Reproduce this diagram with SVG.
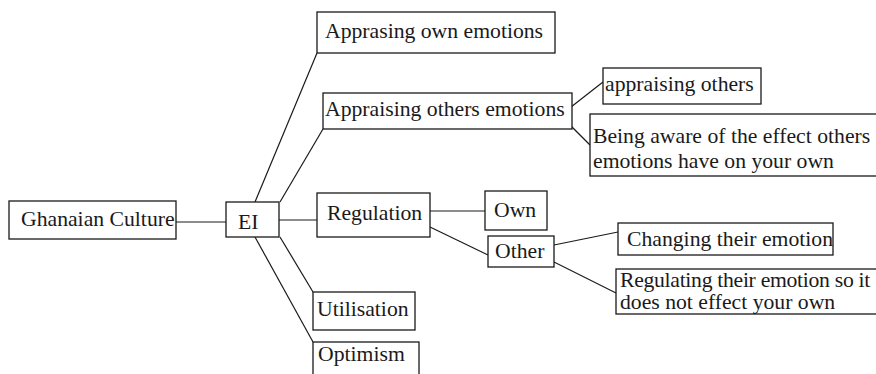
<svg xmlns="http://www.w3.org/2000/svg" width="876" height="374" viewBox="0 0 876 374">
<style>
rect.box{fill:#fff;stroke:#1a1a1a;stroke-width:1.3}
text{font-family:'Liberation Serif','DejaVu Serif',serif;font-size:21.7px;fill:#1a1a1a}
#connectors line{stroke:#1a1a1a;stroke-width:1.2}
</style>
<rect width="876" height="374" fill="#fff"/>
<g id="connectors">
<line x1="176" y1="222" x2="226" y2="222"/>
<line x1="279" y1="220" x2="317" y2="220"/>
<line x1="255" y1="202" x2="317" y2="53"/>
<line x1="280" y1="202" x2="323" y2="129"/>
<line x1="255" y1="237" x2="313" y2="342"/>
<line x1="280" y1="237" x2="313" y2="292"/>
<line x1="430" y1="211" x2="485" y2="211"/>
<line x1="430" y1="227" x2="488" y2="255"/>
<line x1="571" y1="107" x2="603" y2="82"/>
<line x1="571" y1="126" x2="590" y2="145"/>
<line x1="554" y1="245" x2="618" y2="232"/>
<line x1="554" y1="262" x2="616" y2="293"/>
</g>
<g id="ghanaian"><rect class="box" x="9" y="201" width="167" height="38"/><text x="21" y="226">Ghanaian Culture</text></g>
<g id="ei"><rect class="box" x="226" y="202" width="53" height="35"/><text x="238" y="229">EI</text></g>
<g id="own-emotions"><rect class="box" x="317" y="12" width="238" height="41"/><text x="325" y="38">Apprasing own emotions</text></g>
<g id="others-emotions"><rect class="box" x="323" y="93" width="249" height="36"/><text x="325" y="116">Appraising others emotions</text></g>
<g id="appraising-others"><rect class="box" x="603" y="68" width="158" height="36"/><text x="605" y="91">appraising others</text></g>
<g id="being-aware"><rect class="box" x="590" y="114" width="300" height="62"/><text x="593" y="143">Being aware of the effect others</text><text x="593" y="168">emotions have on your own</text></g>
<g id="regulation"><rect class="box" x="317" y="193" width="113" height="44"/><text x="327" y="220">Regulation</text></g>
<g id="own"><rect class="box" x="485" y="191" width="62" height="39"/><text x="494" y="217">Own</text></g>
<g id="other"><rect class="box" x="488" y="236" width="66" height="31"/><text x="495" y="258">Other</text></g>
<g id="changing"><rect class="box" x="618" y="223" width="215" height="32"/><text x="627" y="246">Changing their emotion</text></g>
<g id="regulating"><rect class="box" x="616" y="269" width="300" height="45"/><text x="620" y="287" letter-spacing="-0.3">Regulating their emotion so it</text><text x="620" y="309">does not effect your own</text></g>
<g id="utilisation"><rect class="box" x="313" y="292" width="102" height="38"/><text x="317" y="316">Utilisation</text></g>
<g id="optimism"><rect class="box" x="313" y="342" width="106" height="40"/><text x="318" y="361">Optimism</text></g>
</svg>
